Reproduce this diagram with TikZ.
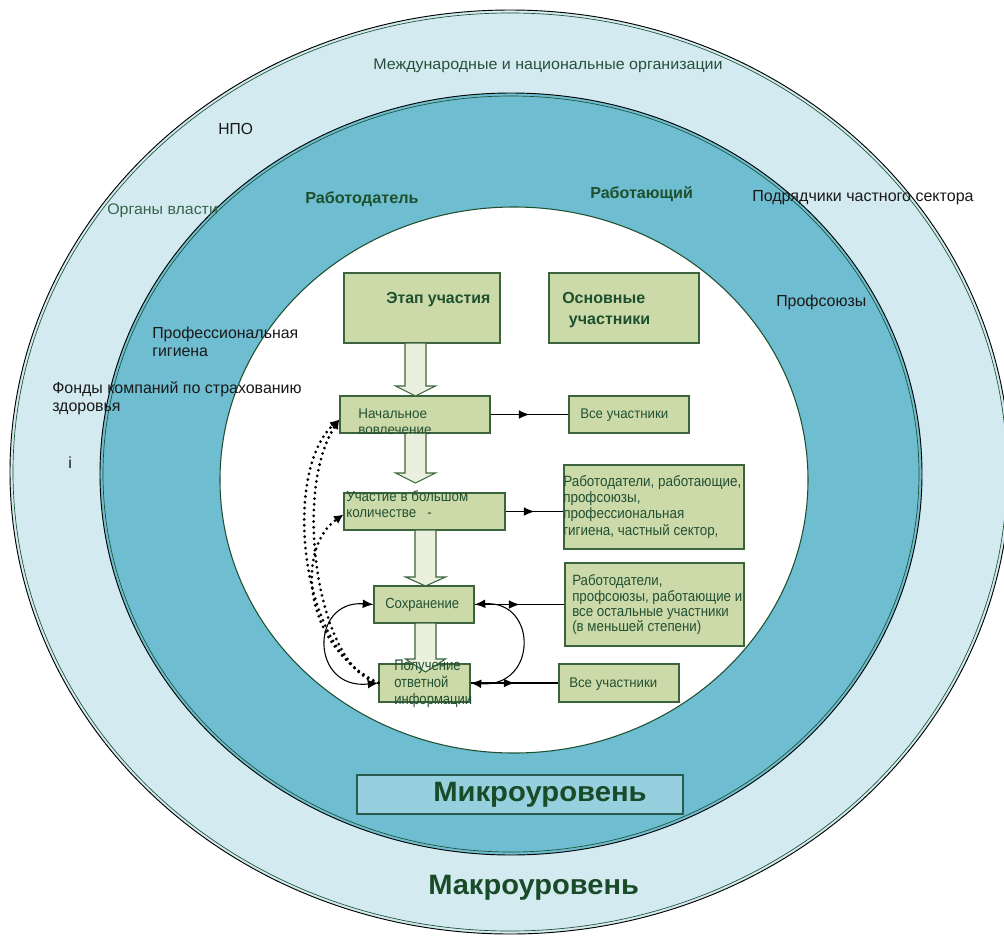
\documentclass[tikz,border=0pt]{standalone}
\usepackage{fontspec}
\setmainfont{Liberation Sans}
\usepackage{graphicx}
\usetikzlibrary{arrows.meta,decorations.markings,fit,calc}

\definecolor{lightband}{RGB}{210,234,240}
\definecolor{midband}{RGB}{111,189,209}
\definecolor{edgegreen}{RGB}{30,80,50}
\definecolor{boxfill}{RGB}{204,218,170}
\definecolor{boxdraw}{RGB}{60,100,60}
\definecolor{arrowfill}{RGB}{235,240,222}
\definecolor{mikrofill}{RGB}{150,207,222}
\definecolor{mikrodraw}{RGB}{40,90,80}
\definecolor{titlegreen}{RGB}{30,80,45}
\definecolor{boxtext}{RGB}{35,80,50}
\definecolor{orgtext}{RGB}{40,80,60}
\definecolor{vlasttext}{RGB}{55,100,75}
\definecolor{blacktext}{RGB}{25,25,25}
\definecolor{macrotext}{RGB}{25,75,40}

% width, font size, line skip, style, lines
\newcommand\ftxt[5]{\resizebox{#1}{\height}{\fontsize{#2}{#3}\selectfont#4\begin{tabular}{@{}l@{}}#5\end{tabular}}}
\newcommand\blockarrow[4]{%
  \draw[barrow] (#1-10.5,#2) -- (#1+10.5,#2) -- (#1+10.5,#3) -- (#1+20,#3)
    -- (#1,#4) -- (#1-20,#3) -- (#1-10.5,#3) -- cycle;}

\begin{document}
\begin{tikzpicture}[x=0.75pt,y=-0.75pt,
  gbox/.style={draw=boxdraw,fill=boxfill,line width=0.9pt,inner sep=0pt},
  mbox/.style={draw=mikrodraw,fill=mikrofill,line width=0.8pt,inner sep=0pt},
  barrow/.style={draw=boxdraw,fill=arrowfill,line width=0.8pt,line join=miter},
  txt/.style={inner sep=0pt,anchor=west},
  conn/.style={draw=black,line width=0.8pt},
  midarrow/.style={decoration={markings,
      mark=at position 0.5 with {\arrow{Latex[length=8pt,width=6.5pt]}}},
      postaction={decorate}},
  arcconn/.style={draw=black,line width=0.8pt,
      {Latex[length=8pt,width=6.5pt]}-{Latex[length=8pt,width=6.5pt]}},
  dotconn/.style={draw=black,line width=2.3pt,dash pattern=on 0pt off 4.3pt,
      line cap=round,-{Latex[length=7pt,width=7pt]}}
]
\useasboundingbox (0,0) rectangle (1004,936);
\clip (0,0) rectangle (1004,936);

% ---- bands ----
\fill[lightband] (510,472) ellipse [x radius=500,y radius=462];
\draw[black,line width=0.7pt] (510,472) ellipse [x radius=500,y radius=462];
\draw[edgegreen,line width=0.5pt] (510,472) ellipse [x radius=497,y radius=459];
\fill[midband] (511,474) ellipse [x radius=411,y radius=381];
\draw[black,line width=0.7pt] (511,474) ellipse [x radius=411,y radius=381];
\draw[edgegreen,line width=0.5pt] (511,474) ellipse [x radius=408,y radius=378];
\fill[white] (514,480) ellipse [x radius=294,y radius=273];
\draw[edgegreen,line width=0.8pt] (514,480) ellipse [x radius=294,y radius=273];

% ---- boxes ----
\node[mbox,fit={(357,775) (683,814)}] (mikro) {};
\node[gbox,fit={(344,273) (500,343)}] (etap) {};
\node[gbox,fit={(549,273) (699,343)}] (osn) {};
\node[gbox,fit={(340,396) (490,433)}] (nach) {};
\node[gbox,fit={(569,396) (689,433)}] (vse1) {};
\node[gbox,fit={(344,493) (505,530)}] (uch) {};
\node[gbox,fit={(564,465) (744,549)}] (rab1) {};
\node[gbox,fit={(374,586) (474,623)}] (soh) {};
\node[gbox,fit={(565,563) (744,646)}] (rab2) {};
\node[gbox,fit={(379,664) (470,702)}] (pol) {};
\node[gbox,fit={(559,664) (679,702)}] (vse2) {};

% ---- block arrows ----
\blockarrow{415.5}{343}{386}{396}
\blockarrow{415.5}{433}{473}{483}
\blockarrow{425.5}{530}{577}{586}
\blockarrow{425.5}{623}{659}{672}

% ---- texts in the bands ----
\node[txt] (tmezh) at (373,66) {\ftxt{262pt}{11.5}{13.5}{\color{orgtext}}{Международные и национальные организации}};
\node[txt] (tnpo) at (218,131) {\ftxt{26pt}{12}{13.5}{\color{blacktext}}{НПО}};
\node[txt] (torg) at (107,211) {\ftxt{83pt}{11.5}{13.5}{\color{vlasttext}}{Органы власти}};
\node[txt] (trabd) at (305,200) {\ftxt{85pt}{12}{13.5}{\color{titlegreen}\bfseries}{Работодатель}};
\node[txt] (trabt) at (590,195) {\ftxt{77pt}{12}{13.5}{\color{titlegreen}\bfseries}{Работающий}};
\node[txt] (tpodr) at (752,198) {\ftxt{166pt}{12}{13.5}{\color{blacktext}}{Подрядчики частного сектора}};
\node[txt] (tprof) at (776,303) {\ftxt{67.5pt}{12}{13.5}{\color{blacktext}}{Профсоюзы}};
\node[txt] (tgig) at (152,344) {\ftxt{109.5pt}{12}{13.5}{\color{blacktext}}{Профессиональная\\гигиена}};
\node[txt] (tfond) at (52,399) {\ftxt{187pt}{12}{13.5}{\color{blacktext}}{Фонды компаний по страхованию\\здоровья}};
\node[txt] (ti) at (68,463) {\fontsize{12}{13.5}\selectfont\color{blacktext}i};

% ---- texts in boxes ----
\node[txt] (tetap) at (386,300) {\ftxt{78pt}{12}{13.5}{\color{titlegreen}\bfseries}{Этап участия}};
\node[txt] (tosn) at (562,309.5) {\ftxt{66pt}{12}{15.75}{\color{titlegreen}\bfseries}{Основные\\\hspace*{5pt}участники}};
\node[txt] (tnach) at (358,423) {\ftxt{55pt}{10.5}{12}{\color{boxtext}}{Начальное\\вовлечение}};
\node[txt] (tvse1) at (580,415) {\ftxt{66pt}{10.5}{12}{\color{boxtext}}{Все участники}};
\node[txt] (tuch) at (346,506) {\ftxt{91.5pt}{11}{12}{\color{boxtext}}{Участие в большом\\количестве\ \ \ -}};
\node[txt] (trab1) at (563,507.5) {\ftxt{133.5pt}{11.2}{12.2}{\color{boxtext}}{Работодатели, работающие,\\профсоюзы,\\профессиональная\\гигиена, частный сектор,}};
\node[txt] (tsoh) at (385,605) {\ftxt{55.5pt}{11}{12}{\color{boxtext}}{Сохранение}};
\node[txt] (trab2) at (572,605.5) {\ftxt{127.5pt}{11.2}{11.25}{\color{boxtext}}{Работодатели,\\профсоюзы, работающие и\\все остальные участники\\(в меньшей степени)}};
\node[txt] (tpol) at (394,684) {\ftxt{58.5pt}{11.5}{12.75}{\color{boxtext}}{Получение\\ответной\\информации}};
\node[txt] (tvse2) at (569,684) {\ftxt{66pt}{10.5}{12}{\color{boxtext}}{Все участники}};
\node[txt] (tmikro) at (433,795) {\ftxt{160pt}{21}{24}{\color{macrotext}\bfseries}{Микроуровень}};
\node[txt] (tmakro) at (428,888) {\ftxt{158pt}{21}{24}{\color{macrotext}\bfseries}{Макроуровень}};

% ---- connectors ----
\draw[conn,midarrow] (nach.east) -- (vse1.west);
\draw[conn,midarrow] (uch.east) -- (uch.east -| rab1.west);
\draw[conn,midarrow] (soh.east) -- (rab2.west);
\draw[conn,midarrow] (pol.east) -- (vse2.west);
\draw[arcconn] (soh.east) .. controls (538,600) and (538,688) .. (pol.east);
\draw[arcconn] (soh.west) .. controls (310,600) and (310,690) .. (pol.west);

\draw[dotconn] (pol.west) .. controls (298,652) and (283,470) .. ($(nach.west)+(0,5)$);
\draw[dotconn] (pol.west) .. controls (302,645) and (296,548) .. ($(uch.west)+(0,3)$);
\draw[dotconn] (pol.west) .. controls (318,670) and (292,492) .. ($(nach.west)+(0,5)$);
\end{tikzpicture}
\end{document}
